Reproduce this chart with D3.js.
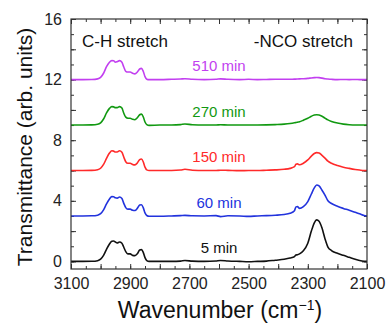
<!DOCTYPE html>
<html>
<head>
<meta charset="utf-8">
<script src="https://cdn.jsdelivr.net/npm/d3@7"></script>
<style>
  html, body { margin: 0; padding: 0; background: #fff; }
  svg { display: block; font-family: "Liberation Sans", Arial, sans-serif; }
</style>
</head>
<body>
<svg id="chart" width="387" height="326"></svg>
<script>
// FTIR spectra of the C-H and -NCO stretching regions at several times
const wavenumber = [
  3100, 3060, 3030, 3010, 3000, 2990, 2980, 2970, 2962, 2956,
  2950, 2944, 2936, 2928, 2922, 2915, 2908, 2900, 2892, 2884,
  2876, 2868, 2862, 2856, 2850, 2844, 2836,
  2800, 2760, 2730, 2715, 2690, 2650, 2610, 2595, 2570, 2530,
  2500, 2470, 2440, 2410, 2380, 2360, 2345, 2340, 2335, 2328,
  2315, 2300, 2288, 2278, 2270, 2262, 2252, 2242, 2232, 2220,
  2200, 2180, 2160, 2140, 2125, 2110, 2100
];

const min5 = [
  0, 0, 0.01, 0.05, 0.15, 0.4, 0.8, 1.15, 1.33, 1.35,
  1.28, 1.22, 1.28, 1.2, 0.95, 0.65, 0.5, 0.5, 0.4, 0.38,
  0.5, 0.75, 0.78, 0.6, 0.25, 0.05, 0,
  0, 0, 0.02, 0.06, 0.02, 0, 0.03, 0.06, 0.03, 0,
  -0.02, 0, 0.02, 0.08, 0.14, 0.22, 0.32, 0.42, 0.44, 0.5,
  0.7, 1.2, 2.0, 2.55, 2.74, 2.65, 2.2, 1.5, 0.95, 0.72,
  0.54, 0.4, 0.27, 0.14, 0.06, 0.01, 0
];

const min60 = [
  0, 0, 0.01, 0.05, 0.15, 0.4, 0.8, 1.12, 1.28, 1.27,
  1.2, 1.18, 1.25, 1.15, 0.85, 0.55, 0.45, 0.45, 0.38, 0.36,
  0.5, 0.72, 0.74, 0.55, 0.2, 0.03, -0.02,
  -0.02, 0, 0.02, 0.04, 0.01, 0, 0.02, -0.04, 0.01, 0,
  -0.03, 0, 0.02, 0.05, 0.1, 0.18, 0.35, 0.6, 0.62, 0.5,
  0.62, 0.95, 1.45, 1.85, 2.04, 1.98, 1.7, 1.38, 1.0, 0.82,
  0.64, 0.5, 0.38, 0.24, 0.14, 0.03, 0
];

const min150 = [
  0, 0, 0.01, 0.05, 0.15, 0.4, 0.8, 1.15, 1.3, 1.28,
  1.22, 1.22, 1.3, 1.2, 0.9, 0.58, 0.48, 0.48, 0.4, 0.37,
  0.5, 0.72, 0.76, 0.58, 0.22, 0.04, 0,
  0, 0, 0.03, 0.08, 0.02, 0, 0, 0.02, 0.01, -0.01,
  0, 0, 0.02, 0.04, 0.08, 0.14, 0.25, 0.42, 0.44, 0.38,
  0.48, 0.7, 0.95, 1.12, 1.18, 1.15, 1.0, 0.82, 0.62, 0.48,
  0.33, 0.22, 0.14, 0.07, 0.03, 0, 0
];

const min270 = [
  0, 0, 0.01, 0.05, 0.15, 0.4, 0.8, 1.1, 1.22, 1.2,
  1.15, 1.15, 1.22, 1.12, 0.8, 0.52, 0.45, 0.45, 0.38, 0.35,
  0.48, 0.68, 0.72, 0.55, 0.2, 0.03, -0.02,
  0, 0, 0.03, 0.07, 0.02, 0, 0, 0.02, 0, 0,
  0, 0, 0.01, 0.03, 0.06, 0.1, 0.15, 0.17, 0.19, 0.22,
  0.32, 0.45, 0.58, 0.66, 0.68, 0.66, 0.58, 0.46, 0.34, 0.24,
  0.13, 0.06, 0.02, 0, 0, 0, 0
];

const min510 = [
  0, 0, 0.01, 0.05, 0.15, 0.42, 0.85, 1.15, 1.25, 1.24,
  1.15, 1.18, 1.25, 1.15, 0.85, 0.55, 0.5, 0.5, 0.42, 0.38,
  0.5, 0.7, 0.74, 0.55, 0.2, 0.03, 0,
  0, 0.02, 0.04, 0.06, 0.02, 0, 0.02, 0.05, 0.02, 0,
  0.02, 0, 0.01, 0.02, 0.02, 0.02, 0.03, 0.03, 0.04, 0.05,
  0.06, 0.08, 0.11, 0.13, 0.14, 0.13, 0.1, 0.06, 0.04, 0.02,
  0, 0.01, 0, 0.01, 0, 0, 0
];

const seriesNames = ["5 min", "60 min", "150 min", "270 min", "510 min"];
const seriesValues = [min5, min60, min150, min270, min510];
const seriesOffsets = [0, 3, 6, 9, 12];
const seriesColors = ["#111111", "#2233dd", "#ff2a2a", "#119911", "#c23ff0"];

const xTickLabels = [3100, 2900, 2700, 2500, 2300, 2100];
const yTickLabels = [0, 4, 8, 12, 16];

const svg = d3.select("#chart");
const margin = { left: 71, top: 19, right: 20, bottom: 57 };
const W = 387 - margin.left - margin.right;
const H = 326 - margin.top - margin.bottom;

const x = d3.scaleLinear().domain([3100, 2100]).range([0, W]);
const y = d3.scaleLinear().domain([-0.5, 16]).range([H, 0]);

const g = svg.append("g").attr("transform", `translate(${margin.left},${margin.top})`);

// inward ticks on all four sides
const axisColor = "#333";
function styleAxis(sel) {
  sel.select(".domain").remove();
  sel.selectAll(".tick line").attr("stroke", axisColor).attr("stroke-width", 1);
  sel.selectAll(".tick text").attr("fill", "#222").style("font-size", "16px")
    .style("font-family", "Liberation Sans, Arial, sans-serif");
}
const xMinor = d3.range(3100, 2099, -50);
const xMajor = d3.range(3100, 2099, -100);
const yMinor = d3.range(0, 16.01, 1);
const yMajor = d3.range(0, 16.01, 2);

g.append("g").attr("transform", `translate(0,${H})`)
  .call(d3.axisBottom(x).tickValues(xMinor).tickSize(-3).tickFormat(""))
  .call(styleAxis);
g.append("g").attr("transform", `translate(0,${H})`)
  .call(d3.axisBottom(x).tickValues(xMajor).tickSize(-5)
    .tickFormat(d => xTickLabels.includes(d) ? d : "").tickPadding(9))
  .call(styleAxis);
g.append("g")
  .call(d3.axisTop(x).tickValues(xMinor).tickSize(-3).tickFormat(""))
  .call(styleAxis);
g.append("g")
  .call(d3.axisTop(x).tickValues(xMajor).tickSize(-5).tickFormat(""))
  .call(styleAxis);

g.append("g")
  .call(d3.axisLeft(y).tickValues(yMinor).tickSize(-3).tickFormat(""))
  .call(styleAxis);
g.append("g")
  .call(d3.axisLeft(y).tickValues(yMajor).tickSize(-5)
    .tickFormat(d => yTickLabels.includes(d) ? d : "").tickPadding(9))
  .call(styleAxis);
g.append("g").attr("transform", `translate(${W},0)`)
  .call(d3.axisRight(y).tickValues(yMinor).tickSize(-3).tickFormat(""))
  .call(styleAxis);
g.append("g").attr("transform", `translate(${W},0)`)
  .call(d3.axisRight(y).tickValues(yMajor).tickSize(-5).tickFormat(""))
  .call(styleAxis);

// spectra, each shifted by its vertical offset
const line = d3.line()
  .x(d => x(d[0]))
  .y(d => y(d[1]))
  .curve(d3.curveMonotoneX);

seriesValues.forEach((vals, i) => {
  const pts = wavenumber.map((w, j) => [w, vals[j] + seriesOffsets[i]]);
  g.append("path")
    .datum(pts)
    .attr("fill", "none")
    .attr("stroke", seriesColors[i])
    .attr("stroke-width", 1.6)
    .attr("stroke-linejoin", "round")
    .attr("d", line);
});

// time labels above each spectrum
seriesNames.forEach((name, i) => {
  g.append("text")
    .attr("x", x(2600))
    .attr("y", y(seriesOffsets[i] + 0.55))
    .attr("text-anchor", "middle")
    .attr("fill", seriesColors[i])
    .style("font-size", "15px")
    .text(name);
});

// frame
g.append("rect")
  .attr("width", W).attr("height", H)
  .attr("fill", "none").attr("stroke", axisColor).attr("stroke-width", 1.2);

// region annotations
g.append("text")
  .attr("x", 11).attr("y", 27.5)
  .attr("fill", "#111").style("font-size", "17px")
  .text("C-H stretch");
g.append("text")
  .attr("x", W - 14).attr("y", 27.5)
  .attr("text-anchor", "end")
  .attr("fill", "#111").style("font-size", "17px")
  .text("-NCO stretch");

// axis titles
const xTitle = svg.append("text")
  .attr("x", margin.left + W / 2 + 1)
  .attr("y", 318)
  .attr("text-anchor", "middle")
  .attr("fill", "#111")
  .style("font-size", "23px");
xTitle.append("tspan").text("Wavenumber (cm");
xTitle.append("tspan").attr("dy", -8).style("font-size", "14px").text("\u22121");
xTitle.append("tspan").attr("dy", 8).text(")");

svg.append("text")
  .attr("transform", `translate(32,${margin.top + H / 2 + 3}) rotate(-90)`)
  .attr("text-anchor", "middle")
  .attr("fill", "#111")
  .style("font-size", "21px")
  .text("Transmittance (arb. units)");
</script>
</body>
</html>
